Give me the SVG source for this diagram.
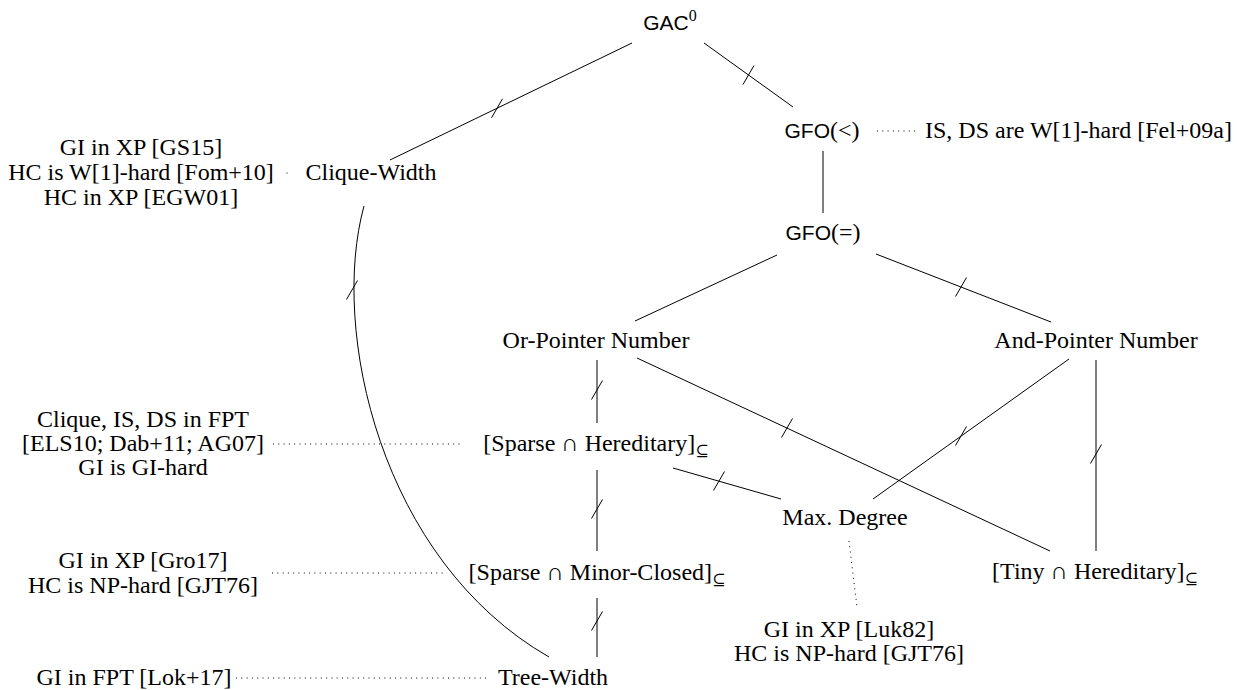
<svg xmlns="http://www.w3.org/2000/svg" xmlns:xlink="http://www.w3.org/1999/xlink" width="1237" height="690" viewBox="0 0 1237 690">
<defs>
<style>
.t{font-family:"Liberation Serif","DejaVu Serif",serif;font-size:24px;fill:#000;text-anchor:middle}
.s{font-family:"Liberation Sans","DejaVu Sans",sans-serif;font-size:21px}
.sub{font-size:16px}
.e{stroke:#000;stroke-width:1;fill:none}
.d{stroke:#000;stroke-width:1;fill:none;stroke-dasharray:1 4.3}
</style>
<path id="tk" d="M-5.5,9.5 L5.5,-9.5" stroke="#000" stroke-width="1" fill="none"/>
</defs>
<rect width="1237" height="690" fill="#fff"/>
<g id="connectors">
<line class="e" x1="632" y1="43" x2="390" y2="160"/><use xlink:href="#tk" x="497" y="108.3"/>
<line class="e" x1="704" y1="43" x2="793" y2="107"/><use xlink:href="#tk" x="748.5" y="75"/>
<line class="e" x1="823" y1="151" x2="823" y2="213"/>
<line class="e" x1="777" y1="255" x2="635" y2="321"/>
<line class="e" x1="876" y1="254" x2="1051" y2="322"/><use xlink:href="#tk" x="961" y="287"/>
<line class="e" x1="597" y1="360" x2="597" y2="423"/><use xlink:href="#tk" x="597" y="390"/>
<line class="e" x1="637" y1="358" x2="1050" y2="551"/><use xlink:href="#tk" x="787" y="428"/>
<line class="e" x1="1069" y1="359" x2="873" y2="499"/><use xlink:href="#tk" x="961" y="436"/>
<line class="e" x1="1096" y1="360" x2="1096" y2="551"/><use xlink:href="#tk" x="1096" y="454"/>
<line class="e" x1="673" y1="468" x2="781" y2="499"/><use xlink:href="#tk" x="719" y="481"/>
<line class="e" x1="597" y1="470" x2="597" y2="551"/><use xlink:href="#tk" x="597" y="509"/>
<line class="e" x1="597" y1="598" x2="597" y2="657"/><use xlink:href="#tk" x="597" y="621"/>
<path class="e" d="M364,206 C330,330 380,560 549,657"/><use xlink:href="#tk" x="352" y="290"/>
<line class="d" x1="877" y1="131" x2="917" y2="131"/>
<line class="d" x1="286.5" y1="173" x2="287.5" y2="173"/>
<line class="d" x1="273" y1="444" x2="460" y2="444"/>
<line class="d" x1="272" y1="573" x2="447" y2="573"/>
<line class="d" x1="236" y1="678" x2="488" y2="678"/>
<line class="d" x1="849" y1="541" x2="857" y2="607"/>
</g>
<g id="gac0"><text class="t" x="670" y="30"><tspan class="s">GAC</tspan><tspan class="sub" dy="-9">0</tspan></text></g>
<g id="gfo-lt"><text class="t" x="822" y="138"><tspan class="s">GFO</tspan>(&lt;)</text></g>
<g id="note-gfo-lt"><text class="t" x="925" y="138" style="text-anchor:start">IS, DS are W[1]-hard [Fel+09a]</text></g>
<g id="clique-width"><text class="t" x="371" y="180">Clique-Width</text></g>
<g id="note-cw"><text class="t" x="141" y="155">GI in XP [GS15]</text><text class="t" x="141" y="180">HC is W[1]-hard [Fom+10]</text><text class="t" x="141" y="205">HC in XP [EGW01]</text></g>
<g id="gfo-eq"><text class="t" x="823" y="240"><tspan class="s">GFO</tspan>(=)</text></g>
<g id="or-pointer"><text class="t" x="596" y="348">Or-Pointer Number</text></g>
<g id="and-pointer"><text class="t" x="1096" y="348">And-Pointer Number</text></g>
<g id="sparse-her"><text class="t" x="596" y="451">[Sparse ∩ Hereditary]<tspan class="sub" dy="5">⊆</tspan></text></g>
<g id="note-sh"><text class="t" x="143" y="427">Clique, IS, DS in FPT</text><text class="t" x="143" y="451">[ELS10; Dab+11; AG07]</text><text class="t" x="143" y="475">GI is GI-hard</text></g>
<g id="max-degree"><text class="t" x="845" y="525">Max. Degree</text></g>
<g id="sparse-minor"><text class="t" x="597" y="580">[Sparse ∩ Minor-Closed]<tspan class="sub" dy="5">⊆</tspan></text></g>
<g id="note-sm"><text class="t" x="143" y="568">GI in XP [Gro17]</text><text class="t" x="143" y="593">HC is NP-hard [GJT76]</text></g>
<g id="tiny-her"><text class="t" x="1095" y="579">[Tiny ∩ Hereditary]<tspan class="sub" dy="5">⊆</tspan></text></g>
<g id="note-md"><text class="t" x="849" y="637">GI in XP [Luk82]</text><text class="t" x="849" y="661">HC is NP-hard [GJT76]</text></g>
<g id="tree-width"><text class="t" x="553" y="685">Tree-Width</text></g>
<g id="note-tw"><text class="t" x="134" y="685">GI in FPT [Lok+17]</text></g>
</svg>
